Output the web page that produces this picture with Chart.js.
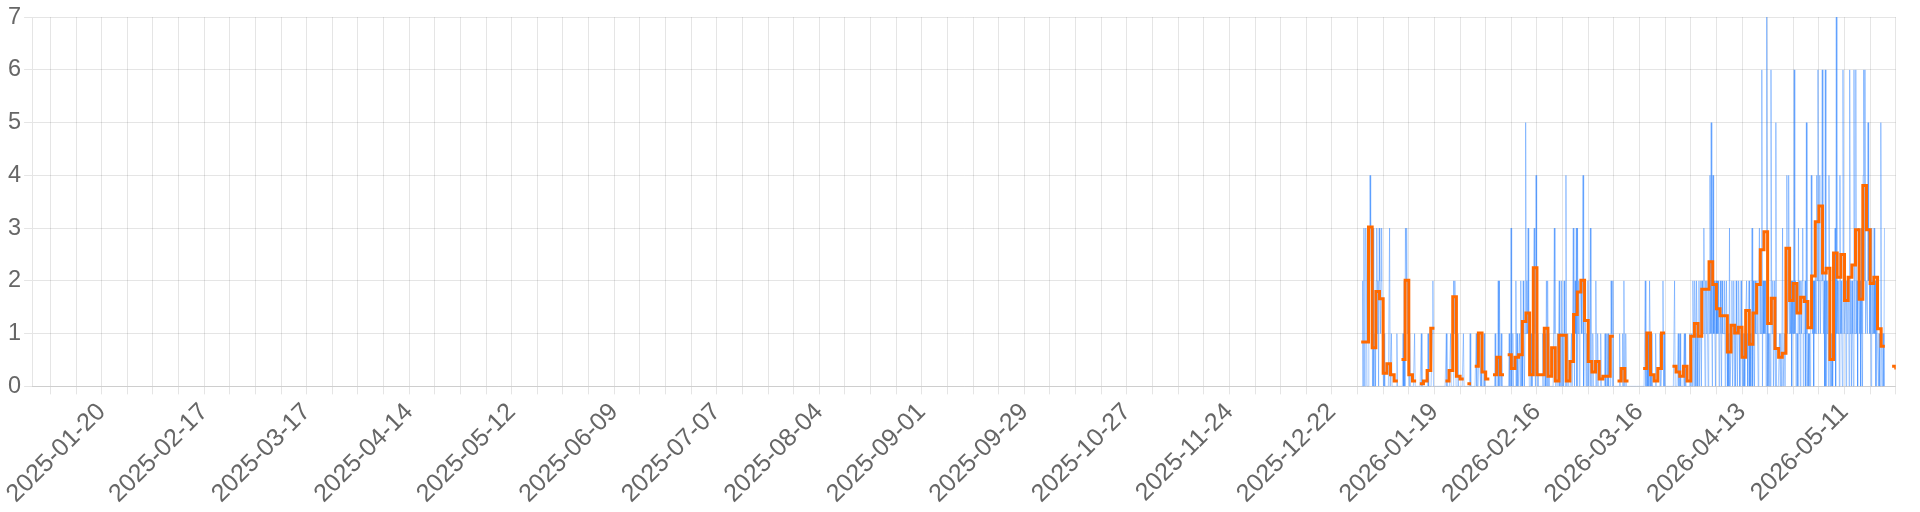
<!DOCTYPE html>
<html>
<head>
<meta charset="utf-8">
<script src="https://cdn.jsdelivr.net/npm/chart.js@4.4.1/dist/chart.umd.min.js"></script>
<style>
  html, body { margin: 0; padding: 0; background: #fff; }
  #wrap { width: 1920px; height: 512px; }
</style>
</head>
<body>
<div id="wrap"><canvas id="activityChart"></canvas></div>
<script>
const axisStart = '2025-01-01';
const axisEnd = '2026-05-25';
const seriesStart = '2025-12-30';

const tickLabels = [
    '2025-01-20', '2025-02-17', '2025-03-17', '2025-04-14', '2025-05-12', '2025-06-09',
    '2025-07-07', '2025-08-04', '2025-09-01', '2025-09-29', '2025-10-27', '2025-11-24',
    '2025-12-22', '2026-01-19', '2026-02-16', '2026-03-16', '2026-04-13', '2026-05-11'
];

// daily average, one value per day from seriesStart (null = no data)
const dailyAverage = [
    0.84, 0.84, 3.02, 0.73, 1.80, 1.66, 0.25, 0.43, 0.22, 0.10,
    null, 0.51, 2.01, 0.22, 0.10, null, 0.05, 0.10, 0.30, 1.10,
    null, null, null, 0.10, 0.30, 1.70, 0.19, 0.14, null, 0.05,
    null, 0.38, 1.01, 0.27, 0.14, null, 0.22, 0.55, 0.22, null,
    0.60, 0.34, 0.55, 0.60, 1.23, 1.39, 0.22, 2.25, 0.22, 0.22,
    1.10, 0.19, 0.73, 0.10, 0.97, 0.97, 0.10, 0.47, 1.36, 1.79,
    2.01, 1.25, 0.47, 0.27, 0.47, 0.14, 0.19, 0.19, 0.95, null,
    0.10, 0.34, 0.10, null, null, null, null, 0.34, 1.01, 0.22,
    0.10, 0.34, 1.01, null, null, 0.38, 0.27, 0.19, 0.38, 0.10,
    0.95, 1.19, 0.95, 1.84, 1.84, 2.36, 1.93, 1.47, 1.34, 1.34,
    0.65, 1.16, 1.01, 1.12, 0.55, 1.44, 0.80, 1.39, 1.93, 2.59,
    2.93, 1.19, 1.67, 0.72, 0.55, 0.63, 2.62, 1.63, 1.95, 1.39,
    1.69, 1.61, 1.11, 2.09, 3.12, 3.42, 2.15, 2.24, 0.51, 2.53,
    2.07, 2.50, 1.63, 2.07, 2.30, 2.97, 1.65, 3.81, 2.97, 1.95,
    2.07, 1.09, 0.76, null, null, 0.38, 0.32
];

// counts, samplesPerDay values per day from seriesStart
const samplesPerDay = 6;
const sampleCounts = [
    0,0,2,0,3,0,  0,3,2,0,0,0,  3,2,4,3,2,3,  0,3,0,0,1,0,  2,3,1,2,0,3,
    2,1,2,3,1,1,  0,1,0,0,0,0,  0,0,0,0,3,0,  0,1,0,0,0,0,  0,0,0,0,1,0,
    0,0,0,0,0,0,  0,0,1,0,2,0,  3,2,3,1,2,1,  0,1,0,0,0,0,  0,0,0,1,0,0,
    0,0,0,0,0,0,  0,0,1,0,0,0,  0,0,0,0,0,0,  0,1,0,0,0,0,  0,0,1,2,0,0,
    0,0,0,0,0,0,  0,0,0,0,0,0,  0,0,0,0,0,0,  0,1,0,0,0,0,  0,0,1,0,0,0,
    0,2,1,2,1,0,  0,0,1,0,0,0,  0,0,0,0,0,1,  0,0,0,0,0,0,  0,0,0,0,1,0,
    0,0,0,0,0,0,  0,0,1,0,0,0,  0,1,1,0,1,0,  0,0,0,1,0,0,  0,0,0,0,0,0,
    0,0,0,0,0,0,  0,0,0,1,0,0,  0,0,2,0,2,0,  0,1,0,0,0,0,  0,0,0,0,0,0,
    0,0,1,0,0,3,  0,0,1,0,0,0,  0,2,0,1,0,0,  0,1,0,2,0,1,  0,2,1,0,1,5,
    1,2,1,3,1,0,  0,0,1,0,0,0,  2,3,1,0,4,2,  0,1,0,0,0,0,  0,0,0,1,0,0,
    0,1,0,2,0,2,  0,1,0,0,0,0,  0,0,0,0,3,1,  0,0,0,1,0,0,  2,0,1,0,2,0,
    1,0,2,1,0,4,  0,0,1,0,0,0,  0,0,1,0,0,3,  1,0,2,1,3,0,  3,1,2,0,1,2,
    2,1,2,4,0,1,  2,1,0,1,0,2,  0,0,0,3,0,0,  0,1,0,0,0,0,  2,0,0,1,0,0,
    0,0,1,0,0,0,  0,0,0,1,0,0,  1,0,1,0,0,0,  0,2,1,0,2,0,  0,0,0,0,0,0,
    0,0,0,1,0,0,  0,0,1,0,2,0,  0,1,0,0,0,0,  0,0,0,0,0,0,  0,0,0,0,0,0,
    0,0,0,0,0,0,  0,0,0,0,0,0,  0,0,0,2,0,0,  1,0,1,0,2,1,  0,1,0,0,0,0,
    0,0,1,0,0,0,  0,0,0,1,0,0,  0,1,2,0,1,0,  0,0,0,0,0,0,  0,0,0,0,0,0,
    0,0,0,2,0,0,  0,0,0,1,0,0,  1,0,0,0,0,0,  0,1,0,1,0,0,  0,0,0,0,1,0,
    0,1,0,2,1,0,  2,1,0,2,1,0,  1,2,0,1,2,0,  2,1,1,3,1,0,  2,1,2,1,0,2,
    1,4,1,5,1,0,  4,1,2,1,0,2,  1,2,1,2,0,1,  2,1,0,2,1,1,  1,2,0,1,2,1,
    0,1,0,3,0,0,  1,2,0,1,2,0,  1,0,2,1,0,1,  2,1,0,1,2,1,  0,1,0,1,0,1,
    1,2,1,0,1,2,  0,1,0,1,3,0,  2,1,0,2,1,1,  2,1,0,2,3,1,  2,1,6,0,2,1,
    2,1,2,0,7,2,  0,1,0,1,0,6,  2,1,2,0,1,2,  0,5,0,0,0,0,  0,1,0,1,0,1,
    3,0,0,1,0,0,  2,4,1,2,4,1,  2,1,2,0,2,1,  1,6,1,2,0,1,  1,0,3,1,2,0,
    2,1,2,3,0,1,  1,2,0,5,1,0,  1,0,1,0,1,4,  2,1,2,0,2,1,  3,1,4,2,6,1,
    2,4,1,2,3,6,  2,1,2,0,6,0,  2,1,2,0,4,2,  0,1,0,1,0,1,  2,1,3,0,7,1,
    2,1,2,0,4,1,  2,1,0,6,2,1,  1,2,0,2,1,2,  2,0,6,1,2,0,  2,1,0,6,1,1,
    6,1,2,0,3,2,  1,2,0,3,1,0,  4,6,2,6,1,2,  2,1,5,2,3,1,  2,0,3,1,2,1,
    3,1,2,0,2,1,  1,0,1,0,0,5,  1,0,1,1,0,3
];

const DAY = 86400000;
const dayOf = (iso) => (Date.parse(iso + 'T00:00:00Z') - Date.parse(axisStart + 'T00:00:00Z')) / DAY;
const isoOf = (d) => new Date(Date.parse(axisStart + 'T00:00:00Z') + Math.round(d) * DAY).toISOString().slice(0, 10);

const firstDay = dayOf(seriesStart);
const lastDay = dayOf(axisEnd);

// each daily value holds for the whole day
const averagePoints = [];
dailyAverage.forEach((v, k) => {
    if (v === null) {
        averagePoints.push({ x: firstDay + k + 0.5, y: null });
    } else {
        averagePoints.push({ x: firstDay + k, y: v }, { x: firstDay + k + 1, y: v });
    }
});

const countPoints = sampleCounts.map((v, i) => ({ x: firstDay + (i + 0.5) / samplesPerDay, y: v }));

const fontFamily = "'Helvetica Neue', Helvetica, Arial, 'Liberation Sans', sans-serif";

document.addEventListener('DOMContentLoaded', () => {
    const ctx = document.getElementById('activityChart')?.getContext('2d');
    if (!ctx) return;
    new Chart(ctx, {
        type: 'line',
        data: {
            datasets: [{
                label: 'Daily average',
                data: averagePoints,
                borderColor: '#ff6a00',
                borderWidth: 3,
                pointRadius: 0,
                spanGaps: false,
                tension: 0
            }, {
                label: 'Count',
                data: countPoints,
                borderColor: 'rgba(41, 128, 255, 0.8)',
                borderWidth: 0.5,
                pointRadius: 0,
                tension: 0
            }]
        },
        options: {
            responsive: true,
            maintainAspectRatio: false,
            animation: false,
            layout: {
                padding: { top: 6, left: 5, right: 24, bottom: 0 }
            },
            plugins: {
                legend: { display: false },
                tooltip: { enabled: false }
            },
            scales: {
                x: {
                    type: 'linear',
                    min: 0,
                    max: lastDay,
                    border: { z: 1 },
                    afterBuildTicks: (scale) => {
                        const ticks = [];
                        for (let d = 5; d <= lastDay; d += 7) ticks.push({ value: d });
                        scale.ticks = ticks;
                    },
                    ticks: {
                        autoSkip: false,
                        minRotation: 45,
                        maxRotation: 45,
                        color: '#666',
                        font: { family: fontFamily, size: 25 },
                        callback: (value) => {
                            const label = isoOf(value);
                            return tickLabels.includes(label) ? label : '';
                        }
                    }
                },
                y: {
                    min: 0,
                    max: 7,
                    ticks: {
                        stepSize: 1,
                        color: '#666',
                        font: { family: fontFamily, size: 23.5 }
                    }
                }
            }
        }
    });
});
</script>
</body>
</html>
